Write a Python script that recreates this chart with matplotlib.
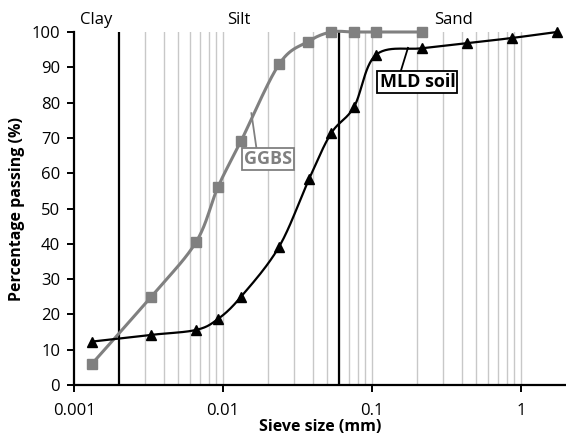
import numpy as np
import matplotlib
matplotlib.use("Agg")
import matplotlib.pyplot as plt

plt.rcParams['font.family'] = ['Open Sans', 'DejaVu Sans']

# Data
ggbs_size = [0.00132, 0.00329, 0.00659, 0.00925, 0.0132, 0.0238, 0.0372, 0.0531, 0.0757, 0.106, 0.217]
ggbs_pass = [6.0, 25.0, 40.5, 56.1, 69.1, 90.9, 97.3, 100, 100, 100, 100]
mld_size = [0.00132, 0.00329, 0.00659, 0.00925, 0.0132, 0.0238, 0.0378, 0.0531, 0.0757, 0.106, 0.217, 0.43, 0.866, 1.74]
mld_pass = [12.3, 14.2, 15.6, 18.7, 25.0, 39.2, 58.4, 71.3, 78.8, 93.5, 95.4, 96.8, 98.3, 100]

x_ticks = [0.001, 0.01, 0.1, 1]
x_ticklabels = ['0.001', '0.01', '0.1', '1']
y_ticks = list(range(0, 101, 10))
boundaries = [0.002, 0.06]
zone_labels = ['Clay', 'Silt', 'Sand']

fig = plt.figure(figsize=(5.66, 4.37), dpi=100)
ax = fig.add_axes([74/566, 1-385/437, 1-74/566, (385-32)/437])
ax.set_xscale('log')
ax.set_xlim(0.001, 2)
ax.set_ylim(0, 100)

# minor gridlines
grid_x = []
for dec in [0.001, 0.01, 0.1]:
    for m in range(2, 11):
        v = dec * m
        if v > 0.0025 and v <= 1.0001:
            grid_x.append(v)
for gx in grid_x:
    ax.axvline(gx, color='#c8c8c8', lw=1.0, zorder=1)
for b in boundaries:
    ax.axvline(b, color='black', lw=1.6, zorder=2)


def smooth(xs, ys, n=30):
    # Excel-like Catmull-Rom bezier smoothing in log-x space
    u = np.log10(np.array(xs, float))
    y = np.array(ys, float)
    P = np.column_stack([u, y])
    verts = [P[0]]
    N = len(P)
    for i in range(N - 1):
        p0 = P[i - 1] if i > 0 else P[i]
        p1 = P[i]
        p2 = P[i + 1]
        p3 = P[i + 2] if i + 2 < N else P[i + 1]
        c1 = p1 + (p2 - p0) / 6.0
        c2 = p2 - (p3 - p1) / 6.0
        t = np.linspace(0, 1, n)[1:, None]
        seg = ((1 - t) ** 3) * p1 + 3 * ((1 - t) ** 2) * t * c1 + 3 * (1 - t) * t ** 2 * c2 + t ** 3 * p2
        verts.extend(seg)
    verts = np.array(verts)
    return 10 ** verts[:, 0], verts[:, 1]

gx_, gy_ = smooth(ggbs_size, ggbs_pass)
mx_, my_ = smooth(mld_size, mld_pass)
gray = '#808080'
ax.plot(gx_, gy_, color=gray, lw=2.2, zorder=3, clip_on=False)
ax.plot(ggbs_size, ggbs_pass, ls='none', marker='s', ms=7, color=gray, zorder=4, clip_on=False)
ax.plot(mx_, my_, color='black', lw=1.6, zorder=5, clip_on=False)
ax.plot(mld_size, mld_pass, ls='none', marker='^', ms=7.5, color='black', zorder=6, clip_on=False)

# spines
for s in ['top', 'right']:
    ax.spines[s].set_visible(False)
for s in ['left', 'bottom']:
    ax.spines[s].set_linewidth(1.6)
    ax.spines[s].set_zorder(7)
ax.set_xticks(x_ticks)
ax.set_xticklabels(x_ticklabels)
ax.xaxis.set_minor_locator(matplotlib.ticker.NullLocator())
ax.set_yticks(y_ticks)
ax.tick_params(axis='both', which='major', direction='out', length=5, width=1.4, labelsize=12)
ax.tick_params(axis='x', pad=8)
ax.tick_params(axis='y', pad=5)
ax.set_xlabel('Sieve size (mm)', fontsize=11.5, fontweight='bold', labelpad=0)
ax.set_ylabel('Percentage passing (%)', fontsize=11.5, fontweight='bold', labelpad=5)

# zone labels
ax.text(0.0014, 101.2, zone_labels[0], fontsize=12, ha='center', va='bottom', clip_on=False)
ax.text(0.0127, 101.2, zone_labels[1], fontsize=12, ha='center', va='bottom', clip_on=False)
ax.text(0.353, 101.2, zone_labels[2], fontsize=12, ha='center', va='bottom', clip_on=False)

# annotations (leader lines + boxed labels)
ax.plot([0.01675, 0.0155], [67.1, 77.0], color=gray, lw=1.3, zorder=8)
ax.text(0.0200, 64.0, 'GGBS', fontsize=13, fontweight='bold', color=gray, ha='center', va='center',
        bbox=dict(boxstyle='square,pad=0.12', fc='white', ec=gray, lw=1.3), zorder=9)
ax.plot([0.156, 0.174], [89.0, 95.5], color='black', lw=1.3, zorder=8)
ax.text(0.2015, 85.8, 'MLD soil', fontsize=13, fontweight='bold', color='black', ha='center', va='center',
        bbox=dict(boxstyle='square,pad=0.12', fc='white', ec='black', lw=1.3), zorder=9)

fig.savefig('out.png', dpi=100)
